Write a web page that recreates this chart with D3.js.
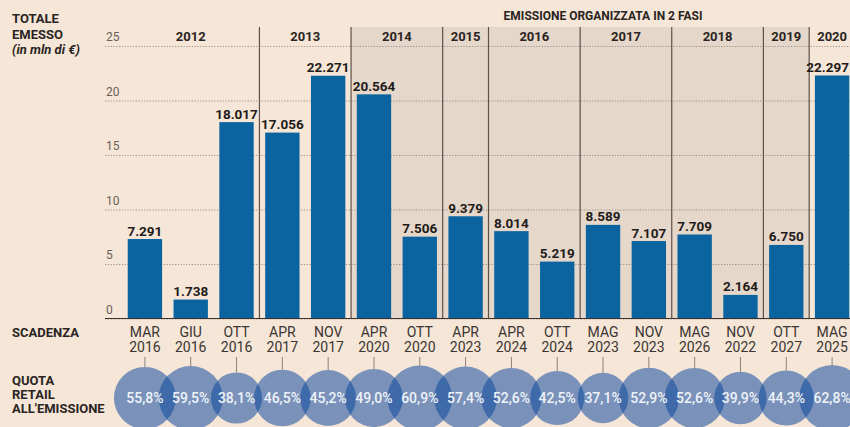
<!DOCTYPE html>
<html lang="it">
<head>
<meta charset="utf-8">
<script src="https://cdn.jsdelivr.net/npm/d3@7"></script>
<style>
  html, body { margin: 0; padding: 0; background: #f5e6d7; }
  svg { display: block; font-family: Roboto, "Noto Sans", sans-serif; }
</style>
</head>
<body>
<div id="chart"></div>
<script>
"use strict";

// scadenza dei titoli: mese e anno
const mesiScadenza = ["MAR", "GIU", "OTT", "APR", "NOV", "APR", "OTT", "APR", "APR", "OTT", "MAG", "NOV", "MAG", "NOV", "OTT", "MAG"];
const anniScadenza = ["2016", "2016", "2016", "2017", "2017", "2020", "2020", "2023", "2024", "2024", "2023", "2023", "2026", "2022", "2027", "2025"];

// anno di emissione di ogni titolo
const anniEmissione = ["2012", "2012", "2012", "2013", "2013", "2014", "2014", "2015", "2016", "2016", "2017", "2017", "2018", "2018", "2019", "2020"];

// anni con emissione organizzata in 2 fasi (zona ombreggiata)
const anniDueFasi = ["2014", "2015", "2016", "2017", "2018", "2019"];

// totale emesso (mld di euro, etichetta in mln con il punto delle migliaia)
const totaleEmesso = [7.291, 1.738, 18.017, 17.056, 22.271, 20.564, 7.506, 9.379, 8.014, 5.219, 8.589, 7.107, 7.709, 2.164, 6.750, 22.297];

// quota retail all'emissione (%)
const quotaRetail = [55.8, 59.5, 38.1, 46.5, 45.2, 49.0, 60.9, 57.4, 52.6, 42.5, 37.1, 52.9, 52.6, 39.9, 44.3, 62.8];

const tickValori = [0, 5, 10, 15, 20, 25];

const W = 850, H = 427;
const BLU = "#0b64a0";
const TESTO = "#2a2422";

const itLocale = d3.formatLocale({ decimal: ",", thousands: ".", grouping: [3], currency: ["", " €"] });
const fmtQuota = d => itLocale.format(".1f")(d) + "%";
const fmtTotale = d3.format(".3f");

const svg = d3.select("#chart")
    .append("svg")
    .attr("width", W)
    .attr("height", H);

svg.append("rect")
    .attr("width", W)
    .attr("height", H)
    .attr("fill", "#f5e6d7");

const x = d3.scaleBand()
    .domain(d3.range(totaleEmesso.length))
    .range([122, 855])
    .paddingInner(0.25)
    .paddingOuter(0.125);

const y = d3.scaleLinear()
    .domain([0, 25])
    .range([318.5, 46]);

const r = d3.scaleSqrt()
    .domain([0, 100])
    .range([0, 41.5]);

// gruppi per anno di emissione
const half = x.step() * x.paddingInner() / 2;
const gruppi = d3.groups(d3.range(totaleEmesso.length), i => anniEmissione[i])
    .map(([anno, idx]) => ({
        anno: anno,
        x0: x(idx[0]) - half,
        x1: x(idx[idx.length - 1]) + x.bandwidth() + half
    }));

const TOP = 27;

// zona ombreggiata: emissione in 2 fasi
const fasi = gruppi.filter(g => anniDueFasi.includes(g.anno));
const fasiX0 = d3.min(fasi, g => g.x0);
svg.append("rect")
    .attr("x", fasiX0)
    .attr("y", TOP)
    .attr("width", d3.max(fasi, g => g.x1) - fasiX0)
    .attr("height", y(0) - TOP)
    .attr("fill", "#e5d7c9");

svg.append("text")
    .attr("x", (fasiX0 + x.range()[1]) / 2)
    .attr("y", 20)
    .attr("text-anchor", "middle")
    .attr("font-size", 12)
    .attr("font-weight", 700)
    .attr("fill", TESTO)
    .text("EMISSIONE ORGANIZZATA IN 2 FASI");

// griglia e asse y
svg.append("g")
    .attr("transform", "translate(105,0)")
    .call(d3.axisRight(y).tickValues(tickValori).tickSize(W - 105).tickFormat(d3.format("d")))
    .call(g => g.select(".domain").remove())
    .call(g => g.selectAll(".tick line")
        .attr("stroke", "#9b8f86")
        .attr("stroke-dasharray", "1.2,1.6"))
    .call(g => g.selectAll(".tick text")
        .attr("x", 1)
        .attr("y", -9)
        .attr("dy", "0.32em")
        .attr("text-anchor", "start")
        .attr("font-size", 12)
        .attr("font-family", "Roboto, sans-serif")
        .attr("fill", "#6a615b"));

// separatori tra gli anni
svg.append("g")
    .selectAll("line")
    .data(gruppi.slice(1))
    .join("line")
    .attr("x1", d => d.x0)
    .attr("x2", d => d.x0)
    .attr("y1", TOP)
    .attr("y2", y(0))
    .attr("stroke", "#5e5049")
    .attr("stroke-width", 1.2);

svg.append("g")
    .selectAll("text")
    .data(gruppi)
    .join("text")
    .attr("x", d => (d.x0 + d.x1) / 2)
    .attr("y", 40.5)
    .attr("text-anchor", "middle")
    .attr("font-size", 13)
    .attr("font-weight", 700)
    .attr("fill", TESTO)
    .text(d => d.anno);

// barre
svg.append("g")
    .selectAll("rect")
    .data(totaleEmesso)
    .join("rect")
    .attr("x", (d, i) => x(i))
    .attr("y", d => y(d))
    .attr("width", x.bandwidth())
    .attr("height", d => y(0) - y(d))
    .attr("fill", BLU);

svg.append("line")
    .attr("x1", 105)
    .attr("x2", W)
    .attr("y1", y(0))
    .attr("y2", y(0))
    .attr("stroke", "#3a302c")
    .attr("stroke-width", 1.2);

svg.append("g")
    .selectAll("text")
    .data(totaleEmesso)
    .join("text")
    .attr("x", (d, i) => x(i) + x.bandwidth() / 2)
    .attr("y", d => y(d) - 3.5)
    .attr("text-anchor", "middle")
    .attr("font-size", 13.5)
    .attr("font-weight", 700)
    .attr("fill", "#1f1b1a")
    .text(d => fmtTotale(d))
    .each(function () {
        // l'ultima etichetta non deve uscire dal bordo destro
        const b = this.getBBox();
        if (b.x + b.width > W - 1) {
            d3.select(this).attr("text-anchor", "end").attr("x", W - 1);
        }
    });

// scadenze
const scad = svg.append("g")
    .selectAll("text")
    .data(mesiScadenza)
    .join("text")
    .attr("x", (d, i) => x(i) + x.bandwidth() / 2)
    .attr("text-anchor", "middle")
    .attr("font-size", 14)
    .attr("fill", "#3b3533");
scad.append("tspan")
    .attr("x", (d, i) => x(i) + x.bandwidth() / 2)
    .attr("y", 337)
    .text(d => d);
scad.append("tspan")
    .attr("x", (d, i) => x(i) + x.bandwidth() / 2)
    .attr("y", 352)
    .text((d, i) => anniScadenza[i]);

// quota retail: cerchi
const CY = 398;
svg.append("g")
    .selectAll("line")
    .data(quotaRetail)
    .join("line")
    .attr("x1", (d, i) => x(i) + x.bandwidth() / 2)
    .attr("x2", (d, i) => x(i) + x.bandwidth() / 2)
    .attr("y1", 357)
    .attr("y2", d => CY - r(d))
    .attr("stroke", "#8d8078")
    .attr("stroke-width", 1);

svg.append("g")
    .selectAll("circle")
    .data(quotaRetail)
    .join("circle")
    .attr("cx", (d, i) => x(i) + x.bandwidth() / 2)
    .attr("cy", CY)
    .attr("r", d => r(d))
    .attr("fill", "#0a459e")
    .attr("fill-opacity", 0.52);

svg.append("g")
    .selectAll("text")
    .data(quotaRetail)
    .join("text")
    .attr("x", (d, i) => x(i) + x.bandwidth() / 2)
    .attr("y", CY)
    .attr("dy", "0.35em")
    .attr("text-anchor", "middle")
    .attr("font-size", 14)
    .attr("font-weight", 500)
    .attr("fill", "#eef2f8")
    .text(d => fmtQuota(d));

// etichette a sinistra
const etichette = [
    { testo: "TOTALE", y: 22.5, italic: false },
    { testo: "EMESSO", y: 38.5, italic: false },
    { testo: "(in mln di €)", y: 54, italic: true },
    { testo: "SCADENZA", y: 337, italic: false },
    { testo: "QUOTA", y: 385, italic: false },
    { testo: "RETAIL", y: 399, italic: false },
    { testo: "ALL'EMISSIONE", y: 413, italic: false }
];
svg.append("g")
    .selectAll("text")
    .data(etichette)
    .join("text")
    .attr("x", 12)
    .attr("y", d => d.y)
    .attr("font-size", 13)
    .attr("font-weight", 700)
    .attr("font-style", d => d.italic ? "italic" : "normal")
    .attr("fill", TESTO)
    .text(d => d.testo);
</script>
</body>
</html>
